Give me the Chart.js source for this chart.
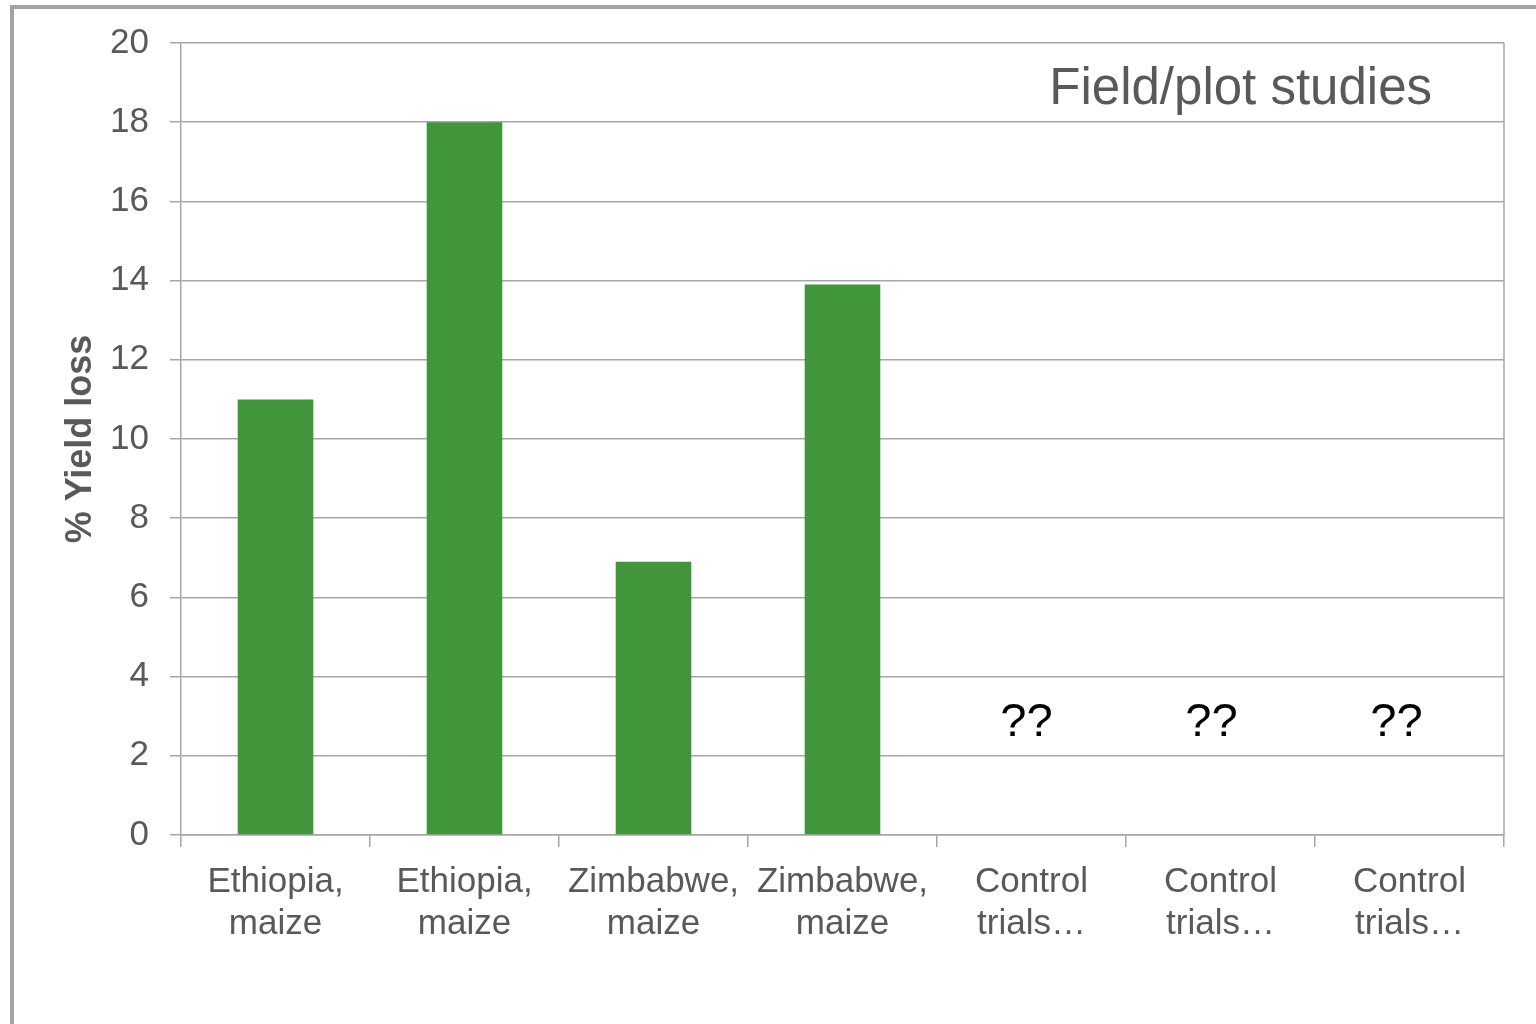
<!DOCTYPE html>
<html>
<head>
<meta charset="utf-8">
<script src="https://cdn.jsdelivr.net/npm/chart.js@4"></script>
<style>
  html, body { margin: 0; padding: 0; background: #ffffff; width: 1536px; height: 1024px; overflow: hidden; }
  #frame { position: absolute; left: 10px; top: 5px; width: 1600px; height: 1100px; border-left: 4px solid #a3a3a3; border-top: 4px solid #a3a3a3; }
  #chart { position: absolute; left: 0; top: 0; }
</style>
</head>
<body>
<div id="frame"></div>
<canvas id="chart" width="1536" height="1024"></canvas>
<script>
// Categories (multi-line tick labels)
const categories = [
  ['Ethiopia,', 'maize'],
  ['Ethiopia,', 'maize'],
  ['Zimbabwe,', 'maize'],
  ['Zimbabwe,', 'maize'],
  ['Control', 'trials…'],
  ['Control', 'trials…'],
  ['Control', 'trials…']
];
// % yield loss per study
const yieldLoss = [11, 18, 6.9, 13.9, null, null, null];
// Placeholder notes for studies without values
const pendingNotes = [null, null, null, null, '??', '??', '??'];
// Y-axis range and tick step
const yTicks = { min: 0, max: 20, step: 2 };
const panelTitle = 'Field/plot studies';
const axisTitle = '% Yield loss';

const GRID = '#a6a6a6';
const TEXT = '#595959';
const FONT = "'Liberation Sans', Arial, sans-serif";

const annotations = {
  id: 'annotations',
  afterDatasetsDraw(chart) {
    const { ctx, chartArea, scales } = chart;
    ctx.save();
    // right frame line of the plot area
    ctx.strokeStyle = GRID;
    ctx.lineWidth = 1.5;
    ctx.beginPath();
    ctx.moveTo(chartArea.right, chartArea.top);
    ctx.lineTo(chartArea.right, chartArea.bottom);
    ctx.stroke();

    // panel caption
    ctx.fillStyle = TEXT;
    ctx.font = '51px ' + FONT;
    ctx.textAlign = 'right';
    ctx.textBaseline = 'alphabetic';
    ctx.fillText(panelTitle, chartArea.right - 72, chartArea.top + 61);

    // "??" notes over categories lacking values
    ctx.fillStyle = '#000000';
    ctx.font = '47px ' + FONT;
    ctx.textAlign = 'center';
    const yPix = scales.y.getPixelForValue(2.5);
    pendingNotes.forEach((note, i) => {
      if (!note) return;
      const nudge = -5 - 4 * (i - 4);
      ctx.fillText(note, scales.x.getPixelForValue(i) + nudge, yPix);
    });
    ctx.restore();
  }
};

new Chart(document.getElementById('chart'), {
  type: 'bar',
  data: {
    labels: categories,
    datasets: [{
      data: yieldLoss,
      backgroundColor: '#41963b',
      borderWidth: 0,
      barPercentage: 0.4,
      categoryPercentage: 1.0
    }]
  },
  options: {
    responsive: false,
    animation: false,
    layout: { padding: { left: 0, top: 43, right: 32, bottom: 0 } },
    plugins: { legend: { display: false }, tooltip: { enabled: false } },
    scales: {
      x: {
        offset: true,
        grid: {
          offset: true,
          drawOnChartArea: false,
          drawTicks: true,
          tickLength: 12,
          color: GRID,
          lineWidth: 1.5
        },
        border: { color: GRID, width: 1.5 },
        ticks: {
          color: TEXT,
          font: { family: FONT, size: 35, lineHeight: 1.2 },
          padding: 14,
          maxRotation: 0,
          autoSkip: false
        },
        afterFit(scale) { scale.height = 189; }
      },
      y: {
        min: yTicks.min,
        max: yTicks.max,
        grid: { color: GRID, lineWidth: 1.5, tickLength: 11 },
        border: { color: GRID, width: 1.5 },
        ticks: {
          stepSize: yTicks.step,
          color: TEXT,
          font: { family: FONT, size: 35 },
          padding: 21
        },
        title: {
          display: true,
          text: axisTitle,
          color: TEXT,
          font: { family: FONT, size: 36, weight: 'bold', lineHeight: 1.2 },
          padding: { top: 59, bottom: 0 }
        },
        afterFit(scale) { scale.width = 181; }
      }
    }
  },
  plugins: [annotations]
});
</script>
</body>
</html>
